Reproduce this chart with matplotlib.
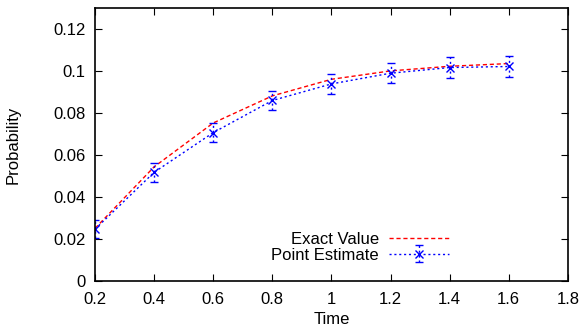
import numpy as np
import matplotlib
matplotlib.use("Agg")
import matplotlib.pyplot as plt

plt.rcParams['font.family'] = ['Liberation Sans', 'DejaVu Sans']

# data
time = [0.2, 0.4, 0.6, 0.8, 1.0, 1.2, 1.4, 1.6]
exact = [0.0250, 0.0543, 0.0752, 0.0881, 0.0960, 0.1000, 0.1022, 0.1035]
estimate = [0.0246, 0.0517, 0.0706, 0.0859, 0.0938, 0.0989, 0.1016, 0.1021]
est_err = [0.0043, 0.0045, 0.0046, 0.0047, 0.0048, 0.0049, 0.0050, 0.0050]

xticks = [0.2, 0.4, 0.6, 0.8, 1.0, 1.2, 1.4, 1.6, 1.8]
xtick_labels = ['0.2', '0.4', '0.6', '0.8', '1', '1.2', '1.4', '1.6', '1.8']
yticks = [0, 0.02, 0.04, 0.06, 0.08, 0.1, 0.12]
ytick_labels = ['0', '0.02', '0.04', '0.06', '0.08', '0.1', '0.12']

fig = plt.figure(figsize=(5.83, 3.30), dpi=100)
ax = fig.add_axes([0.163, 0.149, 0.811, 0.827])

ax.plot(time, exact, color='red', linestyle=(0, (3, 2)), linewidth=1.0, label='Exact Value')
eb = ax.errorbar(time, estimate, yerr=est_err, color='blue', linestyle=(0, (1.5, 2)),
                 linewidth=1.0, marker='x', markersize=6, capsize=3,
                 elinewidth=1.0, label='Point Estimate')
eb[2][0].set_linestyle((0, (1.5, 2)))

ax.set_xlim(0.2, 1.8)
ax.set_ylim(0, 0.13)
ax.set_xticks(xticks)
ax.set_xticklabels(xtick_labels)
ax.set_yticks(yticks)
ax.set_yticklabels(ytick_labels)
ax.tick_params(direction='in', top=True, right=True, length=5, labelsize=12)
ax.tick_params(axis='x', pad=8)
ax.tick_params(axis='y', pad=7)
for s in ax.spines.values():
    s.set_linewidth(1.2)

ax.set_xlabel('Time', fontsize=12, labelpad=4)
ax.set_ylabel('Probability', fontsize=12, labelpad=23)

ax.legend(loc='lower right', bbox_to_anchor=(0.78, 0.012), markerfirst=False,
          frameon=False, fontsize=12, handlelength=3.6, labelspacing=0.05,
          borderpad=0.4, handletextpad=0.6)

fig.savefig('out.png', dpi=100)
